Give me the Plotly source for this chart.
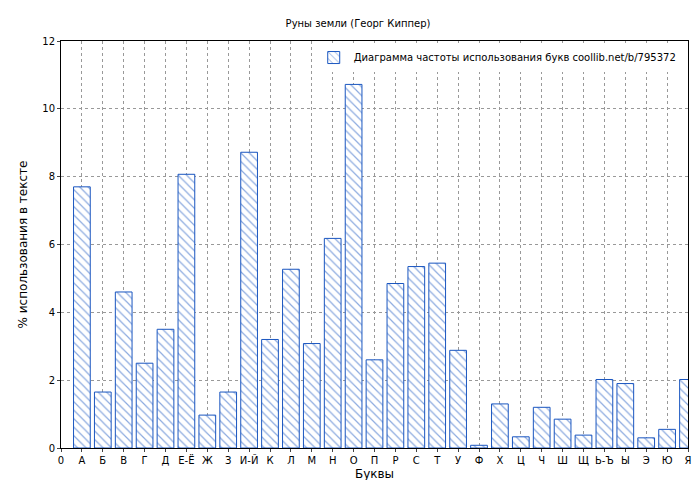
import plotly.graph_objects as go

labels = ["0","А","Б","В","Г","Д","Е-Ё","Ж","З","И-Й","К","Л","М","Н","О","П","Р","С","Т","У","Ф","Х","Ц","Ч","Ш","Щ","Ь-Ъ","Ы","Э","Ю","Я"]
bar_labels = labels[1:]
values = [7.7,1.65,4.6,2.5,3.5,8.07,0.97,1.65,8.72,3.2,5.27,3.08,6.18,10.72,2.6,4.85,5.35,5.45,2.88,0.08,1.3,0.33,1.2,0.85,0.38,2.02,1.9,0.3,0.55,2.02]
xpos = list(range(1, len(bar_labels)+1))

fig = go.Figure(go.Bar(
    x=xpos, y=values, width=0.8,
    name="Диаграмма частоты использования букв coollib.net/b/795372",
    marker=dict(color="white", line=dict(color="#1a56c0", width=1),
                pattern=dict(shape="\\", fgcolor="#1a56c0", bgcolor="white", size=6, solidity=0.2)),
))
fig.update_layout(
    width=700, height=480, paper_bgcolor="white", plot_bgcolor="white",
    font=dict(family="DejaVu Sans", size=10, color="black"),
    title=dict(text="Руны земли (Георг Киппер)", x=0.5, y=0.975, font=dict(size=10)),
    margin=dict(l=53, r=20, t=33, b=40),
    showlegend=True,
    legend=dict(x=0.99, y=0.995, xanchor="right", yanchor="top", bgcolor="white", font=dict(size=10)),
    bargap=0.2,
)
fig.update_xaxes(range=[0, 30], tickvals=list(range(len(labels))), ticktext=labels, automargin=False,
                 showgrid=True, gridcolor="#999", griddash="dot", showline=True, linecolor="black",
                 mirror=True, ticks="outside", ticklen=3, title=dict(text="Буквы", standoff=4))
fig.update_yaxes(range=[0, 12], dtick=2, showgrid=True, gridcolor="#999", griddash="dot", automargin=False,
                 showline=True, linecolor="black", mirror=True, ticks="outside", ticklen=3,
                 title=dict(text="% использования в тексте", standoff=12), zeroline=False)
fig.write_html("out.html")
